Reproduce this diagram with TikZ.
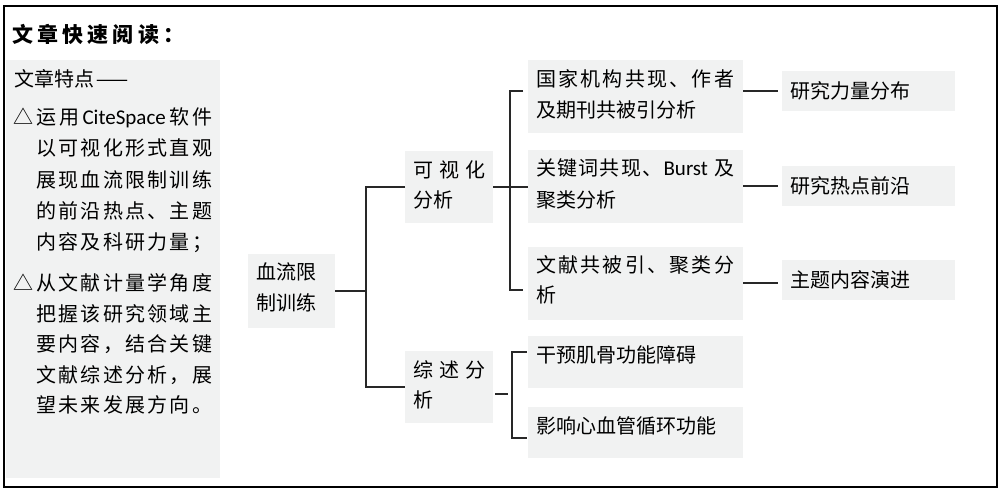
\documentclass[tikz,border=0pt]{standalone}
\usepackage{fontspec}
\setmainfont{Noto Sans CJK SC}
\newfontfamily\latinfont{Carlito}
\definecolor{boxgray}{RGB}{241,242,242}
\definecolor{linecol}{RGB}{40,40,40}
\let\spreadEnd\relax
\newcommand\spreadA[1]{\ifx#1\spreadEnd\unskip\else#1\hfil\expandafter\spreadA\fi}
\newcommand\spreadline[2]{\makebox[#1][s]{\spreadA#2\spreadEnd}}
\newcommand\lat[1]{{\latinfont\fontsize{21}{21}\selectfont #1}}
\tikzset{
  gbox/.style={fill=boxgray, draw=none, inner sep=0pt, outer sep=0pt, anchor=north west},
  txt/.style={inner sep=0pt, anchor=base west, font=\fontsize{20}{20}\selectfont},
  conn/.style={draw=linecol, line width=1.3pt},
}
\begin{document}
\begin{tikzpicture}[x=1pt,y=-1pt]
\useasboundingbox (0,0) rectangle (1003,494);
\fill[white] (0,0) rectangle (1003,494);
\draw[line width=1.5pt, draw=black] (4,6) rectangle (997,487);
% title
\node[txt, font=\fontsize{21}{21}\selectfont\bfseries] (title) at (12,43) {\spreadline{172pt}{文章快速阅读：}};
% left panel
\node[gbox, minimum width=214pt, minimum height=418pt] (P) at (6,60) {};
\node[txt] (p0) at (14,86.6) {文章特点\hspace{1pt}\scalebox{1.9}[1]{—}};
\node[txt] (tri1) at (13,124.6) {△};
\node[txt] (p11) at (36,124.6) {\makebox[176pt][s]{运\hfil 用\hfil\lat{CiteSpace}\hfil 软\hfil 件}};
\node[txt] (p12) at (36,155.6) {\spreadline{176pt}{以可视化形式直观}};
\node[txt] (p13) at (36,187.6) {\spreadline{176pt}{展现血流限制训练}};
\node[txt] (p14) at (36,218.6) {\spreadline{176pt}{的前沿热点、主题}};
\node[txt] (p15) at (36,249.6) {\spreadline{176pt}{内容及科研力量；}};
\node[txt] (tri2) at (13,290.6) {△};
\node[txt] (p21) at (36,290.6) {\spreadline{176pt}{从文献计量学角度}};
\node[txt] (p22) at (36,321) {\spreadline{176pt}{把握该研究领域主}};
\node[txt] (p23) at (36,351.6) {\spreadline{176pt}{要内容，结合关键}};
\node[txt] (p24) at (36,382) {\spreadline{176pt}{文献综述分析，展}};
\node[txt] (p25) at (36,412.6) {\spreadline{176pt}{望未来发展方向。}};
% root
\node[gbox, minimum width=87pt, minimum height=74pt] (R) at (248,254) {};
\node[txt] (r1) at (256,279.6) {血流限};
\node[txt] (r2) at (256,310.6) {制训练};
% level 2
\node[gbox, minimum width=88pt, minimum height=72pt] (V) at (405,151) {};
\node[txt] (v1) at (413,177.6) {\spreadline{72pt}{可视化}};
\node[txt] (v2) at (413,207.6) {分析};
\node[gbox, minimum width=88pt, minimum height=72pt] (S) at (405,351) {};
\node[txt] (s1) at (413,377.6) {\spreadline{72pt}{综述分}};
\node[txt] (s2) at (413,407.6) {析};
% level 3
\node[gbox, minimum width=215pt, minimum height=73pt] (A) at (528,60) {};
\node[txt] (a1) at (536,86.6) {\spreadline{198pt}{国家机构共现、作者}};
\node[txt] (a2) at (536,117.6) {及期刊共被引分析};
\node[gbox, minimum width=215pt, minimum height=73pt] (B) at (528,150) {};
\node[txt] (b1) at (536,175.6) {\makebox[198pt][s]{关\hfil 键\hfil 词\hfil 共\hfil 现\hfil 、\hfil\lat{Burst}\hspace{5pt}\hfil 及}};
\node[txt] (b2) at (536,207.6) {聚类分析};
\node[gbox, minimum width=215pt, minimum height=73pt] (C) at (528,247) {};
\node[txt] (c1) at (536,272.6) {\spreadline{198pt}{文献共被引、聚类分}};
\node[txt] (c2) at (536,302.6) {析};
\node[gbox, minimum width=215pt, minimum height=52pt] (D) at (528,336) {};
\node[txt] (d1) at (536,362.6) {干预肌骨功能障碍};
\node[gbox, minimum width=215pt, minimum height=51pt] (E) at (528,407) {};
\node[txt] (e1) at (536,433.6) {影响心血管循环功能};
% level 4
\node[gbox, minimum width=173pt, minimum height=40pt] (F) at (782,71) {};
\node[txt] (f1) at (790,98.6) {研究力量分布};
\node[gbox, minimum width=173pt, minimum height=40pt] (G) at (782,166) {};
\node[txt] (g1) at (790,193.6) {研究热点前沿};
\node[gbox, minimum width=173pt, minimum height=40pt] (H) at (782,260) {};
\node[txt] (h1) at (790,287.6) {主题内容演进};
% connectors
\draw[conn] (R.east) -- ++(31,0) coordinate (j1);
\draw[conn] (V.west) -| (j1) |- (S.west);
\draw[conn] (V.east) -- (V.east -| B.west);
\coordinate (tA) at (523,91);
\coordinate (tC) at (523,290);
\draw[conn] (tA) -- ++(-13,0) |- (tC);
\coordinate (tD) at (527,352);
\coordinate (tE) at (527,438);
\draw[conn] (tD) -- ++(-15,0) |- (tE);
\draw[conn] ([xshift=2pt,yshift=-7pt]S.east) -- ++(13,0);
\draw[conn] (F.west -| A.east) -- ([xshift=-4pt]F.west);
\draw[conn] (G.west -| B.east) -- ([xshift=-4pt]G.west);
\draw[conn] ([yshift=-3pt]H.west -| C.east) -- ([xshift=-4pt,yshift=-3pt]H.west);
\end{tikzpicture}
\end{document}
